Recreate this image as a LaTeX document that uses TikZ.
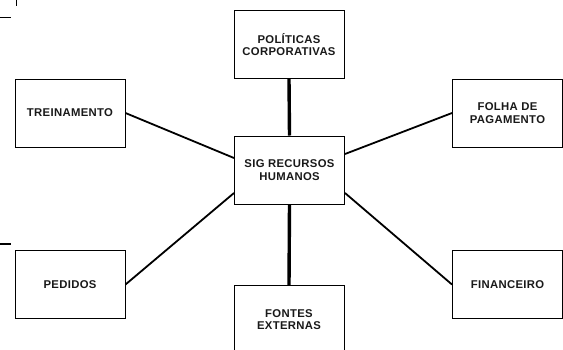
\documentclass[tikz,border=0pt]{standalone}
\usepackage{fontspec}
\setmainfont{Liberation Sans}
\newfontfamily\spacedfont[LetterSpace=3]{Liberation Sans}
\begin{document}
\begin{tikzpicture}[x=1pt,y=-1pt,
  box/.style={draw=black,line width=1pt,rectangle,minimum width=110pt,minimum height=68pt,
    align=center,inner sep=0pt,font=\spacedfont\fontsize{11.3}{12.5}\selectfont\bfseries,text=black!90},
  thin link/.style={line width=1.8pt},
  thick link/.style={line width=3.4pt},
  edgemark/.style={line width=1pt}]
\useasboundingbox (0,0) rectangle (563,349);
\node[box] (pol) at (289,44.5) {POLÍTICAS\\CORPORATIVAS};
\node[box] (tre) at (70,113) {TREINAMENTO};
\node[box] (sig) at (289.5,170) {SIG RECURSOS\\HUMANOS};
\node[box] (fol) at (507.5,113) {FOLHA DE\\PAGAMENTO};
\node[box] (ped) at (70,284.5) {PEDIDOS};
\node[box] (fon) at (289,319.5) {FONTES\\EXTERNAS};
\node[box] (fin) at (507.5,284.5) {FINANCEIRO};
\draw[thick link] (pol.south) -- (sig.north);
\draw[thick link] (sig.south) -- (fon.north);
\draw[thin link] (tre.east) -- ([yshift=12pt]sig.west);
\draw[thin link] ([yshift=16pt]sig.east) -- (fol.west);
\draw[thin link] (ped.east) -- ([yshift=-23pt]sig.west);
\draw[thin link] ([yshift=-23pt]sig.east) -- (fin.west);
\coordinate (m1a) at (16,0); \coordinate (m1b) at (16,6);
\coordinate (m2a) at (0,17); \coordinate (m2b) at (11,17);
\coordinate (m3a) at (0,244); \coordinate (m3b) at (11,244);
\draw[edgemark] (m1a) -- (m1b);
\draw[edgemark] (m2a) -- (m2b);
\draw[line width=2pt] (m3a) -- (m3b);
\end{tikzpicture}
\end{document}
